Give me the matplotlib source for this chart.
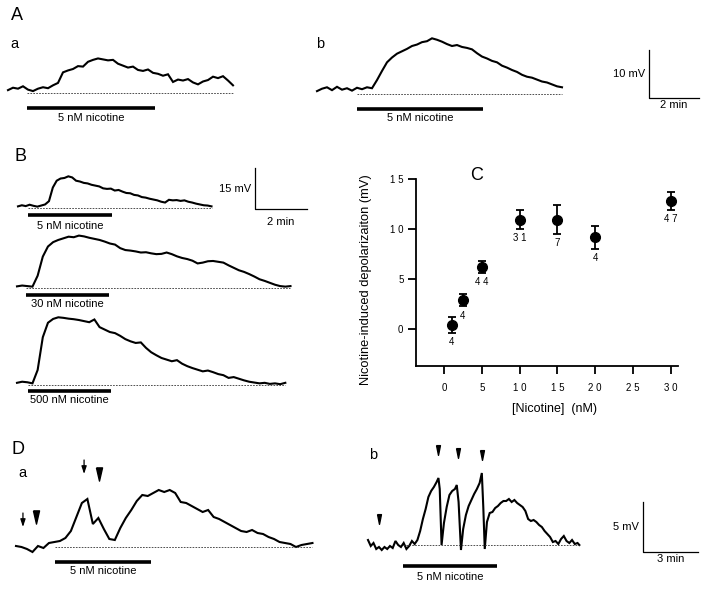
import numpy as np
import matplotlib
matplotlib.use("Agg")
import matplotlib.pyplot as plt

plt.rcParams["font.family"] = ["Liberation Sans", "DejaVu Sans"]

# ---------------- data ----------------
# membrane potential above rest (mV), sampled every dt minutes

# A a
aa_dt = 0.2
aa_mv = [0.6, 1.1, 0.9, 1.4, 0.7, 0.4, 0.9, 1.2, 1.0, 1.6, 2.1, 4.3, 4.7, 5.0, 5.6, 5.5,
         6.5, 6.9, 7.2, 7.0, 6.8, 6.9, 6.1, 5.7, 5.3, 5.5, 4.8, 4.6, 4.9, 4.2, 4.0, 3.6,
         3.9, 2.3, 2.8, 2.6, 2.9, 2.2, 1.8, 2.4, 2.7, 3.4, 3.1, 3.5, 2.6, 1.6]
aa_nic = (0.76, 5.88)

# A b
ab_dt = 0.2
ab_mv = [0.6, 1.1, 1.4, 0.8, 1.5, 0.9, 1.2, 0.7, 1.3, 1.0, 1.4, 1.2, 2.9, 4.8, 6.6, 7.6,
         8.4, 8.9, 9.4, 10.0, 10.3, 10.8, 11.0, 11.6, 11.3, 10.9, 10.4, 10.0, 10.2, 9.8,
         9.6, 9.3, 8.5, 7.8, 7.4, 6.9, 6.6, 5.9, 5.5, 5.0, 4.6, 4.0, 3.6, 3.4, 3.0, 2.6,
         2.4, 2.0, 1.6, 1.4]
ab_nic = (1.6, 6.64)

# B, 5 nM
b1_dt = 0.15
b1_mv = [0.6, 1.0, 0.7, 1.2, 0.8, 0.5, 0.9, 1.3, 2.5, 7.5, 10.0, 10.8, 11.0, 11.6, 11.2,
         10.0, 9.7, 9.2, 9.0, 8.5, 8.2, 7.9, 7.2, 7.0, 7.1, 6.4, 6.6, 6.0, 5.5, 5.4, 4.8,
         4.6, 4.0, 3.8, 3.4, 3.1, 2.8, 2.3, 2.0, 3.0, 2.8, 2.9, 2.6, 2.8, 2.3, 2.0, 1.6,
         1.3, 1.0, 0.9, 0.6]
b1_nic = (0.39, 3.64)

# B, 30 nM
b2_dt = 0.2
b2_mv = [0.6, 0.9, 0.7, 0.5, 4.5, 11.5, 15.2, 16.8, 17.6, 18.2, 18.8, 18.6, 19.2, 18.9,
         18.4, 18.0, 17.6, 17.0, 16.3, 15.9, 14.6, 13.9, 13.7, 13.4, 13.0, 13.1, 12.7,
         12.4, 12.5, 13.0, 12.4, 11.6, 11.0, 10.6, 10.0, 9.0, 9.3, 9.8, 9.9, 9.6, 9.3,
         8.3, 7.4, 6.5, 5.9, 5.1, 4.2, 3.2, 2.6, 1.9, 1.2, 0.7, 0.5, 0.7]
b2_nic = (0.35, 3.57)

# B, 500 nM
b3_dt = 0.2
b3_mv = [0.8, 1.2, 1.0, 0.6, 5.5, 17.5, 22.8, 24.2, 24.8, 24.6, 24.3, 24.1, 23.8, 23.4,
         23.0, 24.0, 21.2, 20.3, 19.4, 19.0, 18.0, 16.8, 16.0, 15.4, 15.6, 13.6, 12.0,
         10.9, 9.9, 9.3, 8.7, 9.1, 7.8, 6.9, 6.2, 5.6, 5.0, 5.3, 4.7, 4.0, 3.6, 2.6, 2.9,
         2.3, 1.7, 1.2, 0.9, 0.6, 0.8, 0.4, 0.6, 0.3, 0.8]
b3_nic = (0.43, 3.64)

# D a
da_dt = 0.3
da_mv = [0.1, 0.0, -0.2, -0.5, 0.1, -0.1, 0.4, 0.5, 0.6, 0.9, 1.6, 3.0, 4.4, 4.8, 2.3,
         2.9, 1.8, 0.8, 0.7, 1.9, 2.9, 3.7, 4.6, 5.2, 5.1, 5.4, 5.7, 5.5, 5.7, 5.4, 4.5,
         4.4, 4.1, 3.8, 3.5, 3.7, 3.0, 2.8, 2.5, 2.2, 1.9, 1.6, 1.5, 1.7, 1.4, 1.3, 1.0,
         0.8, 0.5, 0.4, 0.3, 0.0, 0.2, 0.3, 0.4]
da_nic = (2.13, 7.38)
da_small_arrows = [0.38, 3.72]
da_small_arrow_tops = [3.4, 8.7]
da_big_arrows = [1.09, 4.54]
da_big_arrow_levels = [3.05, 7.3]

# D b (fast repolarisations, so explicit times)
db_t = [0.0, 0.15, 0.3, 0.45, 0.6, 0.75, 0.9, 1.05, 1.2, 1.35, 1.5, 1.65, 1.8, 1.95, 2.1,
        2.25, 2.4, 2.55, 2.7, 2.85, 3.0, 3.15, 3.3, 3.45, 3.6, 3.75, 3.85, 3.92, 4.02,
        4.15, 4.3, 4.45, 4.6, 4.75, 4.85, 4.95, 5.08, 5.2, 5.35, 5.5, 5.65, 5.8, 5.95,
        6.1, 6.22, 6.3, 6.38, 6.5, 6.65, 6.8, 6.95, 7.1, 7.25, 7.4, 7.55, 7.7, 7.85, 8.0,
        8.15, 8.3, 8.45, 8.6, 8.75, 8.9, 9.05, 9.2, 9.35, 9.5, 9.65, 9.8, 9.95, 10.1,
        10.25, 10.4, 10.55, 10.7, 10.85, 11.0, 11.15, 11.3, 11.45, 11.55]
db_mv = [0.5, -0.1, 0.2, -0.4, -0.2, -0.5, -0.2, -0.4, -0.1, -0.3, 0.4, 0.0, -0.2, 0.2,
         -0.4, -0.1, 0.4, 0.1, 0.5, 1.4, 2.6, 3.6, 4.8, 5.4, 5.8, 6.3, 6.7, 5.6, 0.0, 2.2,
         3.8, 5.0, 5.4, 5.6, 6.0, 4.3, -0.5, 1.6, 3.0, 3.9, 4.5, 5.1, 5.6, 6.2, 7.2, 3.8,
         -0.4, 2.3, 3.2, 3.3, 3.7, 3.9, 4.2, 4.4, 4.4, 4.6, 4.3, 4.5, 4.2, 4.0, 3.8, 3.4,
         2.6, 2.4, 2.5, 2.3, 2.0, 1.8, 1.4, 1.1, 0.8, 0.3, 0.4, 0.1, 0.6, 0.9, 0.4, 0.2,
         0.5, 0.1, 0.2, 0.0]
db_nic = (1.91, 7.05)
db_lone_arrow = [0.6]
db_lone_arrow_level = [2.6]
db_peak_arrows = [3.83, 4.92, 6.23]
db_peak_arrow_levels = [9.5, 9.2, 9.0]

# C: dose-response
conc_nm = [1, 2.5, 5, 10, 15, 20, 30]
depol_mv = [0.43, 2.9, 6.26, 10.95, 10.95, 9.2, 12.85]
sem_mv = [0.8, 0.62, 0.6, 0.92, 1.43, 1.15, 0.9]
n_cells = ["4", "4", "4 4", "3 1", "7", "4", "4 7"]
xticks = [0, 5, 10, 15, 20, 25, 30]
xtick_labels = ["0", "5", "1 0", "1 5", "2 0", "2 5", "3 0"]
yticks = [0, 5, 10, 15]
ytick_labels = ["0", "5", "1 0", "1 5"]

# ---------------- figure ----------------
W, H = 712, 590
fig = plt.figure(figsize=(W / 100, H / 100), dpi=100)


def px_axes(x0, y0, px_min, px_mv):
    # full-figure axes whose origin (0 min, 0 mV) sits at pixel (x0, y0)
    ax = fig.add_axes([0, 0, 1, 1])
    ax.set_xlim(-x0 / px_min, (W - x0) / px_min)
    ax.set_ylim(-(H - y0) / px_mv, y0 / px_mv)
    ax.set_axis_off()
    return ax


def draw_trace(ax, t, mv, nic, label, px_mv, bar_px, text_px):
    ax.plot(t, mv, color="k", lw=1.5, solid_joinstyle="miter")
    ax.plot([nic[0], t[-1]], [0, 0], color="0.2", lw=0.6, ls=(0, (2, 1.5)))
    ax.plot(nic, [-bar_px / px_mv] * 2, color="k", lw=2.6, solid_capstyle="butt")
    ax.text(sum(nic) / 2, -text_px / px_mv, label, ha="center", va="center", fontsize=8)


def scale_bar(x0, y0, px_min, px_mv, minutes, mv, mv_label, min_label, min_px):
    ax = px_axes(x0, y0, px_min, px_mv)
    ax.plot([0, 0, minutes], [mv, 0, 0], color="k", lw=0.9)
    ax.annotate(mv_label, (0, mv / 2), xytext=(-4, 0), textcoords="offset pixels",
                ha="right", va="center", fontsize=8)
    ax.text(minutes / 2, -min_px / px_mv, min_label, ha="center", va="center", fontsize=8)


def fig_text(x, y, s, size):
    fig.text(x / W, 1 - y / H, s, ha="center", va="center", fontsize=size)


# panel A
ax = px_axes(8, 93, 25, 4.8)
draw_trace(ax, np.arange(len(aa_mv)) * aa_dt, aa_mv, aa_nic, "5 nM nicotine", 4.8, 15, 25)
ax = px_axes(317, 94, 25, 4.8)
draw_trace(ax, np.arange(len(ab_mv)) * ab_dt, ab_mv, ab_nic, "5 nM nicotine", 4.8, 15, 24)
scale_bar(649, 98, 25, 4.8, 2, 10, "10 mV", "2 min", 7)
fig_text(17, 16, "A", 13)
fig_text(14, 44, "a", 10.5)
fig_text(320, 44, "b", 10.5)

# panel B
ax = px_axes(18, 208, 25.8, 2.73)
draw_trace(ax, np.arange(len(b1_mv)) * b1_dt, b1_mv, b1_nic, "5 nM nicotine", 2.73, 7, 18)
ax = px_axes(17, 288, 25.8, 2.73)
draw_trace(ax, np.arange(len(b2_mv)) * b2_dt, b2_mv, b2_nic, "30 nM nicotine", 2.73, 7, 16)
ax = px_axes(17, 385, 25.8, 2.73)
draw_trace(ax, np.arange(len(b3_mv)) * b3_dt, b3_mv, b3_nic, "500 nM nicotine", 2.73, 6, 15)
scale_bar(255, 209, 25.8, 2.73, 2, 15, "15 mV", "2 min", 13)
fig_text(20, 156, "B", 13)

# panel D
ax = px_axes(16, 547, 18.3, 10)
draw_trace(ax, np.arange(len(da_mv)) * da_dt, da_mv, da_nic, "5 nM nicotine", 10, 15, 24)
for t, top in zip(da_small_arrows, da_small_arrow_tops):
    ax.annotate("", xy=(t, top - 1.4), xytext=(t, top),
                arrowprops=dict(arrowstyle="-|>,head_length=0.45,head_width=0.15",
                                color="k", lw=0.9, shrinkA=0, shrinkB=0))
big_head = [(-0.46, 1), (0.46, 1), (0, -1), (-0.46, 1)]
ax.plot(da_big_arrows, da_big_arrow_levels, marker=big_head, ms=9.5, color="k", ls="none")

ax = px_axes(368, 545, 18.3, 10)
draw_trace(ax, db_t, db_mv, db_nic, "5 nM nicotine", 10, 21, 32)
small_head = [(-0.4, 1), (0.4, 1), (0, -1), (-0.4, 1)]
ax.plot(db_lone_arrow, db_lone_arrow_level, marker=small_head, ms=7, color="k", ls="none")
ax.plot(db_peak_arrows, db_peak_arrow_levels, marker=small_head, ms=7,
        color="k", ls="none")
scale_bar(643, 552, 18.3, 10, 3, 5, "5 mV", "3 min", 7)
fig_text(18, 450, "D", 13)
fig_text(22, 473, "a", 10.5)
fig_text(373, 455, "b", 10.5)

# panel C
axc = fig.add_axes([416 / W, 1 - 366 / H, 262 / W, 187 / H])
axc.set_facecolor("none")
axc.errorbar(conc_nm, depol_mv, yerr=sem_mv, fmt="o", color="k", ms=7,
             capsize=3, elinewidth=1.3, capthick=1.3)
for x, y, e, n in zip(conc_nm, depol_mv, sem_mv, n_cells):
    axc.annotate(n, (x, y - e), xytext=(0, -9.5), textcoords="offset pixels",
                 ha="center", va="center", fontsize=7)
axc.set_xlim(-3.71, 30.99)
axc.set_ylim(-3.67, 15)
axc.spines[["top", "right"]].set_visible(False)
axc.spines[["left", "bottom"]].set_linewidth(1.3)
axc.set_xticks(xticks, xtick_labels)
axc.set_yticks(yticks, ytick_labels)
axc.tick_params(direction="out", length=6, width=1.3, labelsize=7)
axc.tick_params(axis="x", pad=6)
axc.tick_params(axis="y", pad=3)
axc.set_xlabel("[Nicotine]  (nM)", fontsize=9)
axc.set_ylabel("Nicotine-induced depolarizaiton (mV)", fontsize=9.3)
axc.xaxis.set_label_coords(0.53, -0.198)
axc.yaxis.set_label_coords(-0.168, 0.46)
fig_text(477, 176, "C", 13)

fig.savefig("out.png", dpi=100)
